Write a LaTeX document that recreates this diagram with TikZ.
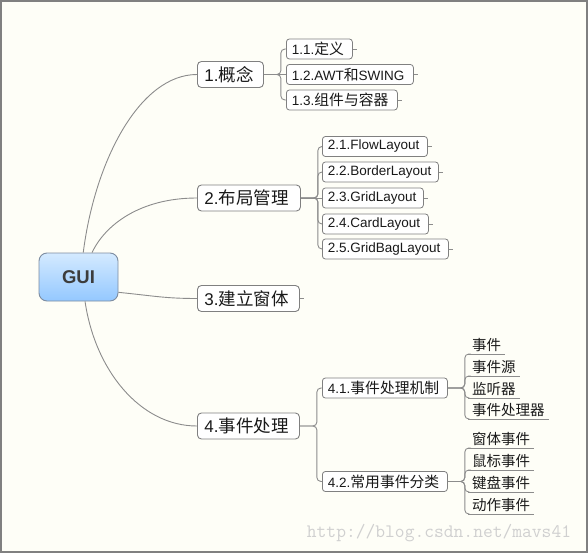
\documentclass[tikz,border=0pt]{standalone}
\usepackage{fontspec}
\setmainfont{Liberation Sans}
\newfontfamily\cjk{Noto Sans CJK SC}
\newcommand\zhs[1]{{\fontsize{14.8}{16}\selectfont\cjk #1}}
\newcommand\zhb[1]{{\fontsize{17.5}{20}\selectfont\cjk #1}}
\definecolor{bg}{RGB}{254,254,247}
\definecolor{framec}{RGB}{128,128,128}
\definecolor{edge}{RGB}{140,140,140}
\definecolor{nodeborder}{RGB}{128,128,128}
\definecolor{txt}{RGB}{25,25,25}
\definecolor{guitop}{RGB}{212,234,255}
\definecolor{guibot}{RGB}{148,200,255}
\definecolor{guiborder}{RGB}{125,140,160}
\definecolor{guitext}{RGB}{60,60,60}
\definecolor{wm}{RGB}{208,208,208}
\begin{document}
\begin{tikzpicture}[x=1pt,y=-1pt,
  conn/.style={draw=edge, line width=0.9pt},
  brk/.style={conn, rounded corners=4pt},
  topic/.style={draw=nodeborder, fill=white, rounded corners=4pt, line width=0.9pt,
    minimum height=26pt, inner xsep=7pt, inner ysep=0pt, anchor=west, text=txt,
    text width=#1-14pt, align=left, font=\fontsize{17}{20}\selectfont},
  sub/.style={draw=nodeborder, fill=white, rounded corners=3pt, line width=0.8pt,
    minimum height=20pt, inner xsep=5.5pt, inner ysep=0pt, anchor=west, text=txt,
    text width=#1-11pt, align=left, font=\fontsize{13.5}{16}\selectfont},
  leaf/.style={inner xsep=4pt, inner ysep=2.5pt, anchor=south west, text=txt,
    font=\fontsize{14.5}{17}\selectfont\cjk},
]
\useasboundingbox (0,0) rectangle (588,553);
\fill[bg] (0,0) rectangle (588,553);
\draw[framec, line width=2pt] (1,1) rectangle (587,552);

% central node
\node[draw=guiborder, top color=guitop, bottom color=guibot, rounded corners=8pt,
  minimum width=79pt, minimum height=48pt, line width=0.9pt, text=guitext,
  font=\fontsize{18.5}{20}\selectfont\bfseries] (gui) at (78.5,277) {GUI};

% level 1
\node[topic=66pt]  (c1) at (197,74.5) {1.\zhb{概念}};
\node[topic=103pt] (c2) at (197,198)  {2.\zhb{布局管理}};
\node[topic=102pt] (c3) at (197,298.5) {3.\zhb{建立窗体}};
\node[topic=102pt] (c4) at (197,426)  {4.\zhb{事件处理}};

\draw[conn] (gui.79) .. controls (95,160) and (140,74.5) .. (c1.west);
\draw[conn] (gui.61) .. controls (105,225) and (140,198) .. (c2.west);
\draw[conn] (gui.-21) .. controls (155,296) and (165,298.5) .. (c3.west);
\draw[conn] (gui.-75) .. controls (95,370) and (140,426) .. (c4.west);
\draw[conn] (c3.east) -- ++(4,0);

% level 2 of 1
\node[sub=66pt]  (c11) at (286,49)  {1.1.\zhs{定义}};
\node[sub=127pt] (c12) at (286,74.5) {1.2.AWT\zhs{和}SWING};
\node[sub=111pt] (c13) at (286,100) {1.3.\zhs{组件与容器}};
\draw[brk] (c1.east) -- ++(17,0) |- (c11.west);
\draw[conn] (c1.east) -- (c12.west);
\draw[brk] (c1.east) -- ++(17,0) |- (c13.west);
\foreach \n in {c11,c12,c13} \draw[conn] (\n.east) -- ++(4,0);

% level 2 of 2
\node[sub=105pt] (c21) at (322,146.5) {2.1.FlowLayout};
\node[sub=116pt] (c22) at (322,172)   {2.2.BorderLayout};
\node[sub=101pt] (c23) at (322,198)   {2.3.GridLayout};
\node[sub=106pt] (c24) at (322,224)   {2.4.CardLayout};
\node[sub=126pt] (c25) at (322,249)   {2.5.GridBagLayout};
\foreach \n in {c21,c22,c24,c25} \draw[brk] (c2.east) -- ++(17,0) |- (\n.west);
\draw[conn] (c2.east) -- (c23.west);
\foreach \n in {c21,c22,c23,c24,c25} \draw[conn] (\n.east) -- ++(4,0);

% level 2 of 4
\node[sub=125pt] (c41) at (322,388)   {4.1.\zhs{事件处理机制}};
\node[sub=125pt] (c42) at (322,481.5) {4.2.\zhs{常用事件分类}};
\foreach \n in {c41,c42} \draw[brk] (c4.east) -- ++(17,0) |- (\n.west);

% level 3 of 4.1
\node[leaf] (e1) at (468,354) {事件};
\node[leaf] (e2) at (468,376) {事件源};
\node[leaf] (e3) at (468,398) {监听器};
\node[leaf] (e4) at (468,419) {事件处理器};
% level 3 of 4.2
\node[leaf] (f1) at (468,448) {窗体事件};
\node[leaf] (f2) at (468,470) {鼠标事件};
\node[leaf] (f3) at (468,492) {键盘事件};
\node[leaf] (f4) at (468,514) {动作事件};
\foreach \n in {e1,e2,e3,e4} {
  \draw[brk] (c41.east) -- ++(17,0) |- (\n.south west);
  \draw[conn] (\n.south west) -- (\n.south east);
}
\foreach \n in {f1,f2,f3,f4} {
  \draw[brk] (c42.east) -- ++(17,0) |- (\n.south west);
  \draw[conn] (\n.south west) -- (\n.south east);
}

% watermark
\node[text=wm, font=\fontsize{19}{20}\selectfont\ttfamily] (wm) at (439,533) {http://blog.csdn.net/mavs41};
\end{tikzpicture}
\end{document}
